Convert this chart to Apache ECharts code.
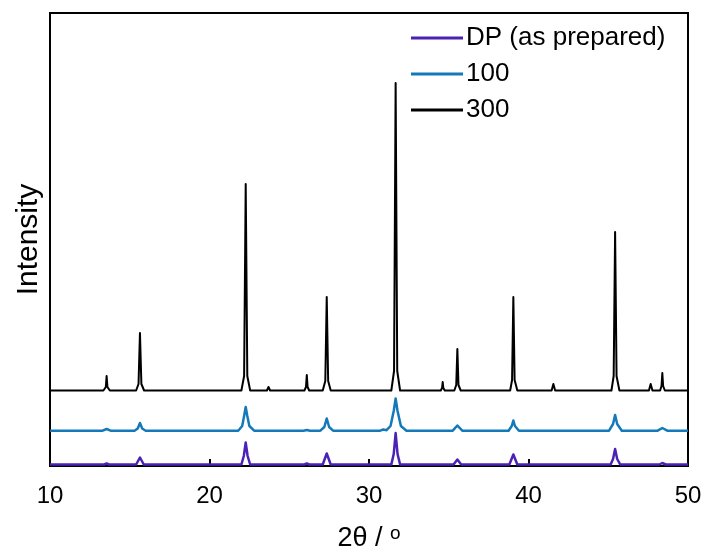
<!DOCTYPE html>
<html>
<head>
<meta charset="utf-8">
<script src="https://cdn.jsdelivr.net/npm/echarts@6/dist/echarts.min.js"></script>
<style>
html,body{margin:0;padding:0;background:#fff;}
#chart{width:708px;height:554px;}
</style>
</head>
<body>
<div id="chart"></div>
<script>
// Series names
const seriesNames = ['DP (as prepared)', '100', '300'];
const seriesColors = ['#4b22b5', '#1479b9', '#000000'];
const xTicks = [10, 20, 30, 40, 50];

// Plotted (offset) intensity profiles, [2θ, intensity]
const dpData = [
  [10,1.5],
  [13.4,1.5],[13.55,2.5],[13.7,1.5],
  [15.4,1.5],[15.64,8.5],[15.88,1.5],
  [22.0,1.5],[22.15,10],[22.27,23.5],[22.39,10],[22.55,1.5],
  [25.95,1.5],[26.1,2.5],[26.25,1.5],
  [27.1,1.5],[27.35,12.5],[27.6,1.5],
  [31.4,1.5],[31.55,12],[31.67,33],[31.79,12],[31.95,1.5],
  [35.3,1.5],[35.54,6.5],[35.78,1.5],
  [38.8,1.5],[39.05,11.5],[39.3,1.5],
  [45.15,1.5],[45.3,7],[45.43,17],[45.56,7],[45.75,1.5],
  [48.2,1.5],[48.39,3],[48.6,1.5],
  [50,1.5]
];
const s100Data = [
  [10,35.3],
  [13.3,35.3],[13.55,37],[13.8,35.3],
  [15.3,35.3],[15.5,37.5],[15.64,43],[15.78,37.5],[16.0,35.3],
  [21.8,35.3],[22.05,40],[22.17,50],[22.27,59],[22.37,50],[22.5,40],[22.8,35.3],
  [25.9,35.3],[26.1,36],[26.3,35.3],
  [26.95,35.3],[27.2,39],[27.35,47.5],[27.5,39],[27.75,35.3],
  [30.7,35.3],[30.9,36.5],[31.1,35.8],[31.35,40],[31.55,55],[31.67,67.5],[31.79,55],[32.0,40],[32.35,35.3],
  [35.25,35.3],[35.54,40.5],[35.85,35.3],
  [38.75,35.3],[38.95,40],[39.05,45.5],[39.15,40],[39.4,35.3],
  [45.05,35.3],[45.3,42],[45.43,51],[45.56,42],[45.85,35.3],
  [48.1,35.3],[48.39,38],[48.7,35.3],
  [50,35.3]
];
const s300Data = [
  [10,75.5],
  [13.35,75.5],[13.5,79],[13.55,90],[13.6,79],[13.75,75.5],
  [15.4,75.5],[15.55,82],[15.64,133],[15.73,82],[15.9,75.5],
  [22.0,75.5],[22.17,90],[22.27,282],[22.37,90],[22.55,75.5],
  [23.6,75.5],[23.7,79],[23.8,75.5],
  [25.95,75.5],[26.05,79],[26.1,91],[26.15,79],[26.25,75.5],
  [27.1,75.5],[27.26,85],[27.35,169],[27.44,85],[27.6,75.5],
  [29.4,75.5],[29.5,77],[29.6,75.5],
  [31.4,75.5],[31.57,95],[31.67,383],[31.77,95],[31.95,75.5],
  [33.7,75.5],[33.8,77.5],[33.9,75.5],
  [34.5,75.5],[34.58,78],[34.62,84],[34.66,78],[34.75,75.5],
  [35.35,75.5],[35.47,81],[35.54,117],[35.61,81],[35.75,75.5],
  [38.85,75.5],[38.97,86],[39.05,169],[39.13,86],[39.3,75.5],
  [41.45,75.5],[41.56,82],[41.67,75.5],
  [45.2,75.5],[45.34,90],[45.43,234],[45.52,90],[45.7,75.5],
  [47.55,75.5],[47.66,82],[47.77,75.5],
  [48.25,75.5],[48.34,80],[48.39,93],[48.44,80],[48.55,75.5],
  [50,75.5]
];
const allData = [dpData, s100Data, s300Data];

const FONT = '"Liberation Sans", Arial, sans-serif';
const chart = echarts.init(document.getElementById('chart'), null, {renderer: 'canvas'});
chart.setOption({
  animation: false,
  backgroundColor: '#fff',
  grid: {left: 50, right: 20, top: 13, bottom: 88, show: true, borderColor: '#000', borderWidth: 2,
    backgroundColor: 'transparent', containLabel: false, outerBoundsMode: 'none'},
  legend: {
    orient: 'vertical', left: 406, top: 20, itemGap: 10,
    itemWidth: 52, itemHeight: 3, icon: 'rect',
    data: seriesNames,
    textStyle: {fontFamily: FONT, fontSize: 26, color: '#000', padding: [0,0,0,-2]}
  },
  xAxis: {
    type: 'value', min: xTicks[0], max: xTicks[xTicks.length-1], interval: 10,
    name: '2θ / {s|o}', nameLocation: 'middle', nameGap: 58,
    nameTextStyle: {fontFamily: FONT, fontSize: 27, color: '#000',
      rich: {s: {fontFamily: FONT, fontSize: 19, color: '#000', verticalAlign: 'top', padding: [0,0,10,0]}}},
    axisLine: {show: true, lineStyle: {color: '#000', width: 2}},
    axisTick: {show: true, inside: true, length: 7, lineStyle: {color: '#000', width: 2}},
    axisLabel: {fontFamily: FONT, fontSize: 24, color: '#000', margin: 18},
    splitLine: {show: false}
  },
  yAxis: {
    type: 'value', min: 0, max: 453,
    name: 'Intensity', nameLocation: 'middle', nameGap: 6,
    nameTextStyle: {fontFamily: FONT, fontSize: 30, color: '#000'},
    axisLine: {show: true, lineStyle: {color: '#000', width: 2}},
    axisTick: {show: false}, axisLabel: {show: false}, splitLine: {show: false}
  },
  series: seriesNames.map((n, i) => ({
    name: n, type: 'line', data: allData[i], showSymbol: false, symbol: 'none',
    color: seriesColors[i],
    lineStyle: {color: seriesColors[i], width: i === 2 ? 2 : 2.5, join: 'round'},
    z: 2 + i
  }))
});
</script>
</body>
</html>
